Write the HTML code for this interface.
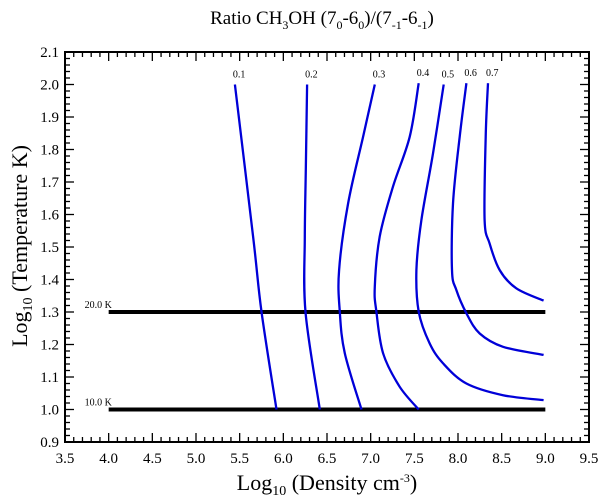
<!DOCTYPE html>
<html><head><meta charset="utf-8"><style>
body{margin:0;background:#fff;}
svg{display:block;font-family:"Liberation Serif",serif;}
</style></head><body>
<svg id="chart" width="600" height="501">
<text x="322" y="24" text-anchor="middle" font-size="19">Ratio CH<tspan font-size="12" dy="5">3</tspan><tspan dy="-5">OH (7</tspan><tspan font-size="12" dy="5">0</tspan><tspan dy="-5">-6</tspan><tspan font-size="12" dy="5">0</tspan><tspan dy="-5">)/(7</tspan><tspan font-size="12" dy="5">-1</tspan><tspan dy="-5">-6</tspan><tspan font-size="12" dy="5">-1</tspan><tspan dy="-5">)</tspan></text>
<text x="0" y="0" transform="translate(27,246) rotate(-90)" text-anchor="middle" font-size="22">Log<tspan font-size="14" dy="5">10</tspan><tspan dy="-5"> (Temperature K)</tspan></text>
<text x="327" y="490" text-anchor="middle" font-size="22">Log<tspan font-size="14" dy="5">10</tspan><tspan dy="-5"> (Density cm</tspan><tspan font-size="12" dy="-8">-3</tspan><tspan dy="8">)</tspan></text>
<g id="axes"></g>
<g id="marks"></g>
</svg>
<script>
const xTicks=[3.5,4.0,4.5,5.0,5.5,6.0,6.5,7.0,7.5,8.0,8.5,9.0,9.5];
const yTicks=[0.9,1.0,1.1,1.2,1.3,1.4,1.5,1.6,1.7,1.8,1.9,2.0,2.1];
const levels=["0.1","0.2","0.3","0.4","0.5","0.6","0.7"];
const c01=[[5.445,2.0],[5.654,1.532],[5.75,1.301],[5.922,1.0]];
const c02=[[6.272,2.0],[6.257,1.737],[6.246,1.532],[6.254,1.30],[6.418,1.0]];
const c03=[[7.047,2.0],[6.913,1.839],[6.742,1.634],[6.638,1.429],[6.646,1.301],[6.704,1.173],[6.895,1.0]];
const c04=[[7.55,2.004],[7.447,1.839],[7.256,1.686],[7.104,1.532],[7.047,1.378],[7.066,1.301],[7.142,1.173],[7.333,1.07],[7.55,1.0]];
const c05=[[7.836,2.0],[7.714,1.788],[7.581,1.583],[7.524,1.429],[7.55,1.301],[7.676,1.203],[7.829,1.142],[8.096,1.08],[8.515,1.044],[8.98,1.029]];
const c06=[[8.096,2.004],[8.019,1.839],[7.943,1.634],[7.931,1.429],[7.981,1.368],[8.096,1.296],[8.248,1.234],[8.515,1.193],[8.98,1.168]];
const c07=[[8.343,2.004],[8.317,1.839],[8.305,1.583],[8.362,1.511],[8.477,1.429],[8.668,1.373],[8.98,1.335]];
const curves=[c01,c02,c03,c04,c05,c06,c07];
const refTemps=[1.0,1.3];
const refLabels=["10.0 K","20.0 K"];
const refRange=[4.0,9.0];

const X0=65,X1=589,Y0=442,Y1=52;
const sx=v=>X0+(v-3.5)/(9.5-3.5)*(X1-X0);
const sy=v=>Y0-(v-0.9)/(2.1-0.9)*(Y0-Y1);
const NS="http://www.w3.org/2000/svg";
const ax=document.getElementById('axes'),mk=document.getElementById('marks');
function mkEl(t,a,p){const e=document.createElementNS(NS,t);for(const k in a)e.setAttribute(k,a[k]);p.appendChild(e);return e;}
function smooth(pts){let d='M'+pts[0][0].toFixed(1)+','+pts[0][1].toFixed(1);
 for(let i=0;i<pts.length-1;i++){const p0=pts[i-1]||pts[i],p1=pts[i],p2=pts[i+1],p3=pts[i+2]||p2;
  const c1=[p1[0]+(p2[0]-p0[0])/6,p1[1]+(p2[1]-p0[1])/6],c2=[p2[0]-(p3[0]-p1[0])/6,p2[1]-(p3[1]-p1[1])/6];
  d+=' C'+c1.map(v=>v.toFixed(1)).join(',')+' '+c2.map(v=>v.toFixed(1)).join(',')+' '+p2.map(v=>v.toFixed(1)).join(',');}
 return d;}
const frame=mkEl('rect',{x:X0,y:Y1,width:X1-X0,height:Y0-Y1,fill:'none',stroke:'#000','stroke-width':2},ax);


for(let i=0;i<=60;i++){const v=3.5+i*0.1;const x=sx(v);const major=i%5===0;const L=major?9:5;
 const t1=mkEl('line',{x1:x,x2:x,y1:Y0,y2:Y0-L,stroke:'#000','stroke-width':1.3},ax);
 
 
 const t2=mkEl('line',{x1:x,x2:x,y1:Y1,y2:Y1+L,stroke:'#000','stroke-width':1.3},ax);
 
 }
for(let i=0;i<=60;i++){const v=0.9+i*0.02;const y=sy(v);const major=i%5===0;const L=major?9:5;
 const t1=mkEl('line',{x1:X0,x2:X0+L,y1:y,y2:y,stroke:'#000','stroke-width':1.3},ax);
 
 
 const t2=mkEl('line',{x1:X1,x2:X1-L,y1:y,y2:y,stroke:'#000','stroke-width':1.3},ax);
 
 }
xTicks.forEach(v=>{const t=mkEl('text',{x:sx(v),y:Y0+21,'text-anchor':'middle','font-size':15},ax);t.textContent=v.toFixed(1);
 
 });
yTicks.forEach(v=>{const t=mkEl('text',{x:X0-6,y:sy(v)+5,'text-anchor':'end','font-size':15},ax);t.textContent=v.toFixed(1);
 
 });
refTemps.forEach((v,i)=>{const l=mkEl('line',{x1:sx(refRange[0]),x2:sx(refRange[1]),y1:sy(v),y2:sy(v),stroke:'#000','stroke-width':4},mk);
 
 
 const t=mkEl('text',{x:sx(refRange[0])-24,y:sy(v)-4,'font-size':10},mk);t.textContent=refLabels[i];
 
 });
curves.forEach((c,i)=>{const d=smooth(c.map(p=>[sx(p[0]),sy(p[1])]));
 const p=mkEl('path',{d:d,fill:'none',stroke:'#0000d8','stroke-width':2.3,'stroke-linejoin':'round'},mk);
 
 
 const t=mkEl('text',{x:sx(c[0][0])-2,y:sy(c[0][1])-7,'font-size':10},mk);t.textContent=levels[i];
 
 });
</script>
</body></html>
